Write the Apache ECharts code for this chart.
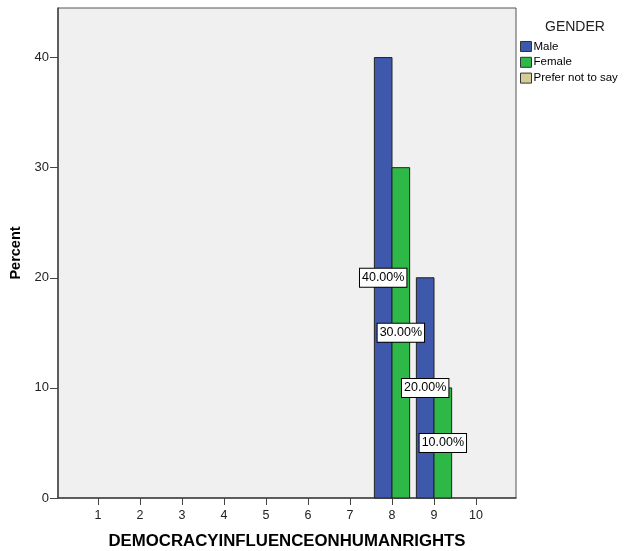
<!DOCTYPE html>
<html>
<head>
<meta charset="utf-8">
<script src="https://cdn.jsdelivr.net/npm/echarts@6/dist/echarts.min.js"></script>
<style>
html,body{margin:0;padding:0;background:#fff;}
#chart{width:625px;height:551px;}
</style>
</head>
<body>
<div id="chart"></div>
<script>
var categories = [8, 9];
var maleValues = [40, 20];
var femaleValues = [30, 10];
var preferValues = [];
var xTicks = [1, 2, 3, 4, 5, 6, 7, 8, 9, 10];
var yTicks = [0, 10, 20, 30, 40];
var seriesNames = ['Male', 'Female', 'Prefer not to say'];
var colors = ['#3e58ac', '#2eb848', '#d3ce97'];

var FONT = 'Liberation Sans, Arial, sans-serif';
var BAR_W = 0.42;

function makeData(vals) {
  return vals.map(function (v, i) { return [categories[i], v]; });
}

function renderer(side, color) {
  return function (params, api) {
    var x = api.value(0), v = api.value(1);
    var x0 = side < 0 ? x - BAR_W : x;
    var x1 = side < 0 ? x : x + BAR_W;
    var p0 = api.coord([x0, v]);
    var p1 = api.coord([x1, 0]);
    return {
      type: 'rect',
      shape: { x: p0[0], y: p0[1], width: p1[0] - p0[0], height: p1[1] - p0[1] },
      style: { fill: color, stroke: '#222', lineWidth: 1 },
      textContent: {
        style: {
          text: v.toFixed(2) + '%',
          fill: '#000',
          fontSize: 12.5,
          fontFamily: FONT,
          backgroundColor: '#fff',
          borderColor: '#000',
          borderWidth: 1,
          padding: [3, 2, 2, 2]
        }
      },
      textConfig: { position: 'inside' }
    };
  };
}

var chart = echarts.init(document.getElementById('chart'));
chart.setOption({
  animation: false,
  backgroundColor: '#fff',
  title: {
    text: 'GENDER',
    left: 540,
    top: 15,
    textStyle: { fontSize: 14, fontWeight: 'normal', color: '#222', fontFamily: FONT }
  },
  legend: {
    orient: 'vertical',
    left: 520,
    top: 40.5,
    padding: 0,
    itemWidth: 11,
    itemHeight: 10,
    itemGap: 3.8,
    icon: 'rect',
    data: seriesNames,
    textStyle: { fontSize: 11.5, color: '#000', fontFamily: FONT, padding: [0, 0, 0, -3] },
    itemStyle: { borderColor: '#333', borderWidth: 1 }
  },
  grid: {
    left: 58, top: 8, width: 458, height: 490,
    outerBoundsMode: 'none',
    containLabel: false,
    show: true, backgroundColor: '#f0f0f0', borderColor: '#555', borderWidth: 1
  },
  xAxis: {
    type: 'value',
    min: 0.048,
    max: 10.952,
    name: 'DEMOCRACYINFLUENCEONHUMANRIGHTS',
    nameLocation: 'middle',
    nameGap: 35,
    nameTextStyle: { fontSize: 16.8, fontWeight: 'bold', color: '#000', fontFamily: FONT },
    axisLine: { show: true, lineStyle: { color: '#444', width: 1.5 } },
    axisTick: { show: true, length: 7, customValues: xTicks, lineStyle: { color: '#444' } },
    axisLabel: { customValues: xTicks, fontSize: 12.5, color: '#222', fontFamily: FONT, margin: 11 },
    splitLine: { show: false }
  },
  yAxis: {
    type: 'value',
    min: 0,
    max: 44.5,
    name: 'Percent',
    nameLocation: 'middle',
    nameGap: 31,
    nameTextStyle: { fontSize: 14.5, fontWeight: 'bold', color: '#000', fontFamily: FONT },
    axisLine: { show: true, lineStyle: { color: '#444', width: 1.5 } },
    axisTick: { show: true, length: 8, customValues: yTicks, lineStyle: { color: '#444' } },
    axisLabel: { customValues: yTicks, fontSize: 13, color: '#222', fontFamily: FONT, margin: 9 },
    splitLine: { show: false }
  },
  series: [
    { name: seriesNames[0], type: 'custom', color: colors[0], data: makeData(maleValues), renderItem: renderer(-1, colors[0]), encode: { x: 0, y: 1 } },
    { name: seriesNames[1], type: 'custom', color: colors[1], data: makeData(femaleValues), renderItem: renderer(1, colors[1]), encode: { x: 0, y: 1 } },
    { name: seriesNames[2], type: 'custom', color: colors[2], data: makeData(preferValues), renderItem: renderer(1, colors[2]), encode: { x: 0, y: 1 } }
  ]
});
</script>
</body>
</html>
